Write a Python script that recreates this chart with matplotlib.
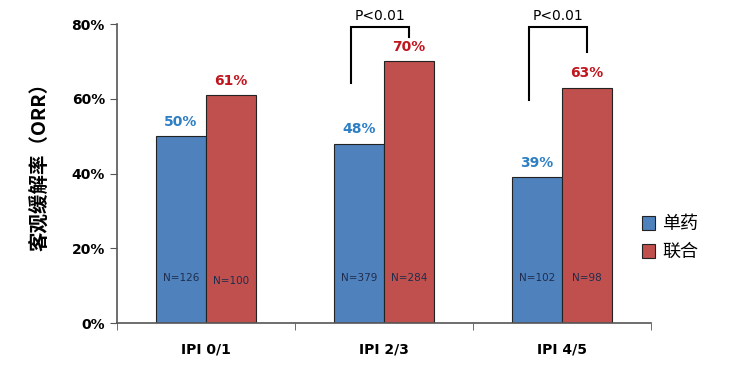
import matplotlib
matplotlib.use("Agg")
import matplotlib.pyplot as plt
import numpy as np

groups = ["IPI 0/1", "IPI 2/3", "IPI 4/5"]
single = [50, 48, 39]
combo = [61, 70, 63]
n_single = ["N=126", "N=379", "N=102"]
n_combo = ["N=100", "N=284", "N=98"]
series_names = ["单药", "联合"]
# bracket: (group index, left end height, right end height, top height)
brackets = [(1, 64.2, 76.5, 79.1), (2, 59.6, 72.5, 79.1)]
p_text = "P<0.01"

blue = "#4F81BD"
red = "#C0504D"
cjk = ["Noto Sans CJK SC", "DejaVu Sans"]

fig = plt.figure(figsize=(7.34, 3.70), dpi=100)
ax = fig.add_axes([0.159, 0.127, 0.728, 0.808])

x = np.arange(len(groups))
w = 0.28
b1 = ax.bar(x - w / 2, single, w, color=blue, edgecolor="#222222", linewidth=0.8, label=series_names[0])
b2 = ax.bar(x + w / 2, combo, w, color=red, edgecolor="#222222", linewidth=0.8, label=series_names[1])

for i in range(len(groups)):
    ax.text(x[i] - w / 2, single[i] + 2, f"{single[i]}%", ha="center", va="bottom",
            color="#2E7FC4", fontsize=10, fontweight="bold")
    ax.text(x[i] + w / 2, combo[i] + 2, f"{combo[i]}%", ha="center", va="bottom",
            color="#C0161E", fontsize=10, fontweight="bold")
    ax.text(x[i] - w / 2, 12, n_single[i], ha="center", va="center", color="#1F2D4D", fontsize=7.5)
    ax.text(x[i] + w / 2, 11.3 if i == 0 else 12, n_combo[i], ha="center", va="center",
            color="#1F2D4D", fontsize=7.5)

for g, yl, yr, yt in brackets:
    xl = g - 0.185
    xr = g + w / 2
    ax.plot([xl, xl, xr, xr], [yl, yt, yt, yr], color="black", linewidth=1.5,
            clip_on=False, solid_joinstyle="miter")
    ax.text((xl + xr) / 2, yt + 1.2, p_text, ha="center", va="bottom", fontsize=10, clip_on=False)

ax.set_xlim(-0.5, len(groups) - 0.5)
ax.set_ylim(0, 80)
ax.set_yticks([0, 20, 40, 60, 80])
ax.set_yticklabels([f"{v}%" for v in [0, 20, 40, 60, 80]], fontsize=10, fontweight="bold")
ax.set_xticks(x)
ax.set_xticklabels(groups, fontsize=10, fontweight="bold")
ax.tick_params(axis="x", which="major", length=0, pad=14)
ax.set_xticks(np.arange(len(groups) + 1) - 0.5, minor=True)
ax.tick_params(axis="x", which="minor", length=5, direction="out", color="#555555")
ax.tick_params(axis="y", length=5, direction="out", color="#555555")
ax.spines["top"].set_visible(False)
ax.spines["right"].set_visible(False)
ax.spines["left"].set_color("#555555")
ax.spines["bottom"].set_color("#555555")
ax.spines["left"].set_linewidth(1.2)
ax.spines["bottom"].set_linewidth(1.2)

ax.set_ylabel("客观缓解率（ORR）", family=cjk, fontsize=14, fontweight="bold", labelpad=8)
ax.yaxis.set_label_coords(-0.126, 0.54)

fig.legend(handles=[b1, b2], labels=series_names, loc="upper left",
           bbox_to_anchor=(0.852, 0.462), frameon=False, prop={"family": cjk, "size": 13},
           handlelength=0.75, handleheight=0.75, handletextpad=0.4, labelspacing=0.55)

fig.savefig("out.png", dpi=100)
